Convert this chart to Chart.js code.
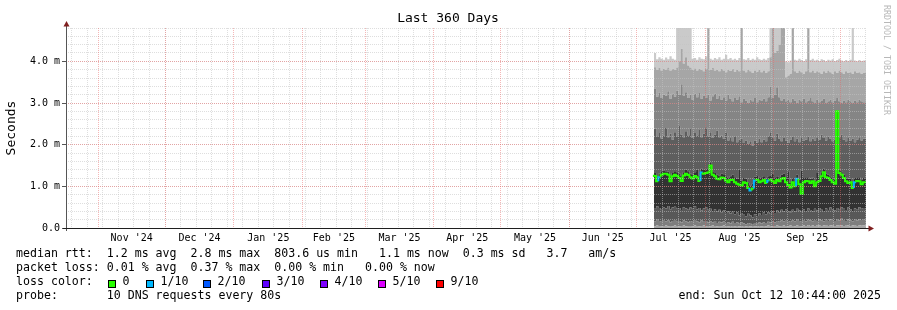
<!DOCTYPE html>
<html><head><meta charset="utf-8">
<script src="https://cdn.jsdelivr.net/npm/chart.js@4/dist/chart.umd.min.js"></script>
<style>html,body{margin:0;padding:0;background:#fff}#wrap{width:897px;height:310px;position:relative}</style>
</head><body><div id="wrap"><canvas id="c" width="897" height="310"></canvas></div>
<script>
// ---------- time frame ----------
const endTime = Date.UTC(2025, 9, 12, 10, 44);
const spanDays = 360;
const firstBin = '2025-07-09';          // first daily bin with data
const firstSunday = '2024-10-20';       // weekly grid anchor
const monthStarts = ['2024-11-01','2024-12-01','2025-01-01','2025-02-01','2025-03-01','2025-04-01','2025-05-01','2025-06-01','2025-07-01','2025-08-01','2025-09-01','2025-10-01'];
const monthLabels = ["Nov '24","Dec '24","Jan '25","Feb '25","Mar '25","Apr '25","May '25","Jun '25","Jul '25","Aug '25","Sep '25"];
const yMajorTicks = [0, 1, 2, 3, 4];
const yTickLabels = ['0.0', '1.0 m', '2.0 m', '3.0 m', '4.0 m'];

// ---------- series (ms), one value per daily bin ----------
const median = [1.28,1.25,1.12,1.22,1.28,1.30,1.30,1.28,1.12,1.24,
 1.28,1.25,1.20,1.13,1.26,1.30,1.27,1.22,1.19,1.25,
 1.22,1.13,1.33,1.30,1.32,1.33,1.50,1.28,1.24,1.18,
 1.17,1.21,1.20,1.14,1.10,1.15,1.16,1.10,1.06,1.04,
 1.02,1.10,1.08,0.96,0.90,0.95,1.14,1.16,1.10,1.12,
 1.15,1.08,1.14,1.16,1.12,1.08,1.15,1.12,1.18,1.20,
 1.10,1.03,0.97,1.10,1.00,1.18,1.05,0.82,1.10,1.13,
 1.12,1.08,1.12,1.00,1.10,1.13,1.24,1.34,1.22,1.20,
 1.15,1.10,1.06,2.80,1.32,1.28,1.20,1.12,1.08,1.10,
 0.96,1.10,1.13,1.12,1.05,1.10];
const lossCount = [0,0,1,0,0,0,0,0,0,0, 0,0,0,0,0,0,0,0,0,0,
 0,1,0,0,0,0,0,0,0,0, 0,0,0,0,0,0,0,0,0,0,
 0,0,0,1,0,1,0,0,0,0, 0,1,0,0,0,0,0,0,0,0,
 0,0,0,0,1,0,0,0,0,0, 0,0,0,0,0,0,0,0,0,0,
 0,0,0,0,0,0,0,0,0,0, 1,0,0,0,0,0];
const smokeLo0 = [0.05,0.04,0.06,0.05,0.04,0.05,0.06,0.04,0.05,0.04,
 0.06,0.05,0.04,0.05,0.06,0.04,0.05,0.05,0.04,0.06,
 0.05,0.04,0.05,0.06,0.04,0.05,0.04,0.06,0.05,0.04,
 0.05,0.04,0.06,0.05,0.04,0.03,0.05,0.04,0.03,0.04,
 0.05,0.03,0.04,0.03,0.04,0.03,0.04,0.05,0.03,0.04,
 0.05,0.04,0.06,0.05,0.04,0.05,0.06,0.04,0.05,0.06,
 0.05,0.04,0.06,0.05,0.04,0.06,0.05,0.04,0.06,0.05,
 0.07,0.05,0.06,0.05,0.07,0.06,0.05,0.06,0.07,0.05,
 0.06,0.07,0.05,0.06,0.07,0.06,0.05,0.07,0.06,0.05,
 0.06,0.07,0.05,0.06,0.07,0.06];
const smokeLo1 = [0.18,0.16,0.20,0.17,0.15,0.19,0.16,0.18,0.14,0.17,
 0.19,0.15,0.17,0.13,0.18,0.16,0.14,0.17,0.15,0.19,
 0.16,0.14,0.18,0.15,0.17,0.13,0.16,0.14,0.17,0.12,
 0.15,0.13,0.16,0.12,0.14,0.11,0.15,0.12,0.14,0.10,
 0.13,0.11,0.09,0.12,0.10,0.08,0.12,0.10,0.13,0.11,
 0.14,0.12,0.15,0.13,0.16,0.14,0.17,0.15,0.18,0.16,
 0.19,0.17,0.15,0.18,0.16,0.20,0.17,0.15,0.19,0.16,
 0.20,0.18,0.16,0.19,0.17,0.21,0.18,0.16,0.20,0.17,
 0.21,0.19,0.17,0.20,0.18,0.22,0.19,0.17,0.21,0.18,
 0.16,0.20,0.18,0.21,0.19,0.20];
const smokeLo2 = [0.50,0.46,0.52,0.48,0.44,0.50,0.47,0.53,0.45,0.49,
 0.51,0.46,0.48,0.43,0.50,0.47,0.44,0.49,0.46,0.52,
 0.45,0.48,0.42,0.47,0.50,0.44,0.46,0.41,0.45,0.40,
 0.44,0.38,0.42,0.36,0.40,0.35,0.39,0.33,0.37,0.30,
 0.36,0.32,0.28,0.34,0.30,0.26,0.33,0.29,0.35,0.31,
 0.37,0.33,0.38,0.34,0.40,0.36,0.42,0.38,0.44,0.40,
 0.45,0.41,0.38,0.44,0.40,0.46,0.42,0.39,0.45,0.41,
 0.47,0.43,0.40,0.46,0.42,0.48,0.44,0.41,0.47,0.43,
 0.49,0.45,0.42,0.48,0.44,0.50,0.46,0.43,0.49,0.45,
 0.41,0.47,0.44,0.50,0.46,0.48];
const smokeHi1 = [1.36,1.32,1.22,1.30,1.36,1.38,1.36,1.35,1.25,1.32,
 1.36,1.34,1.30,1.24,1.34,1.40,1.36,1.30,1.28,1.34,
 1.40,1.26,1.42,1.39,1.41,1.42,1.58,1.36,1.32,1.28,
 1.26,1.30,1.29,1.24,1.20,1.24,1.28,1.22,1.18,1.40,
 1.14,1.20,1.18,1.08,1.02,1.06,1.23,1.25,1.20,1.22,
 1.24,1.18,1.24,1.25,1.30,1.20,1.24,1.22,1.28,1.30,
 1.22,1.36,1.08,1.20,1.12,1.28,1.16,1.38,1.20,1.22,
 1.22,1.18,1.21,1.14,1.32,1.22,1.34,1.42,1.30,1.28,
 1.24,1.20,1.16,2.80,1.40,1.36,1.28,1.22,1.18,1.20,
 1.08,1.20,1.22,1.22,1.15,1.20];
const smokeHi2 = [2.25,2.38,2.20,2.28,2.15,2.22,2.40,2.18,2.26,2.12,
 2.30,2.20,2.45,2.24,2.18,2.32,2.22,2.40,2.16,2.28,
 2.22,2.35,2.18,2.26,2.42,2.20,2.30,2.16,2.24,2.34,
 2.18,2.22,2.14,2.28,2.10,2.16,2.08,2.20,2.06,2.12,
 2.15,2.04,2.10,2.02,2.08,1.98,2.10,2.05,2.14,2.06,
 2.12,2.08,2.20,2.30,2.18,2.10,2.26,2.14,2.08,2.16,
 2.10,2.04,2.12,2.20,2.08,2.14,2.06,2.18,2.10,2.12,
 2.20,2.08,2.14,2.10,2.18,2.12,2.24,2.16,2.10,2.20,
 2.14,2.08,2.12,2.82,2.18,2.24,2.12,2.08,2.16,2.10,
 2.14,2.06,2.12,2.18,2.10,2.14];
const smokeHi3 = [3.22,3.35,3.15,3.25,3.12,3.20,3.18,3.28,3.10,3.22,
 3.15,3.30,3.20,3.45,3.18,3.26,3.12,3.20,3.08,3.22,
 3.14,3.24,3.10,3.18,3.12,3.20,3.06,3.16,3.22,3.10,
 3.18,3.08,3.14,3.06,3.20,3.10,3.04,3.12,3.08,3.16,
 3.02,3.10,3.06,3.00,3.08,3.04,3.12,3.02,3.08,3.06,
 3.10,3.04,3.14,3.40,3.12,3.20,3.38,3.14,3.06,3.10,
 3.04,3.08,3.02,3.10,3.06,3.00,3.08,3.04,3.10,3.02,
 3.06,3.12,3.04,3.00,3.08,3.02,3.06,3.10,3.00,3.04,
 3.08,3.02,3.06,3.12,3.04,3.00,3.06,3.02,3.08,3.04,
 3.00,3.06,3.02,3.08,3.04,3.02];
const smokeHi4 = [3.82,3.86,3.80,3.84,3.78,3.82,3.80,3.85,3.78,3.82,
 3.80,3.85,4.00,4.30,3.95,4.10,3.90,3.85,3.80,3.83,
 3.78,3.82,3.80,3.76,3.82,4.80,3.79,3.84,3.78,3.80,
 3.76,3.82,3.78,3.74,3.80,3.77,3.82,3.75,3.79,3.76,
 4.80,3.78,3.74,3.80,3.76,3.72,3.78,3.75,3.80,3.74,
 3.78,3.72,3.76,4.10,4.80,4.20,4.25,4.40,4.80,4.80,
 3.62,3.66,3.70,4.80,3.76,3.72,3.78,3.74,3.70,3.76,
 4.80,3.74,3.78,3.72,3.76,3.74,3.70,3.76,3.72,3.78,
 3.74,3.70,3.76,3.72,3.78,3.74,3.70,3.76,3.72,3.74,
 3.70,3.76,3.72,3.74,3.70,3.72];
const smokeHi5 = [4.08,4.20,4.05,4.10,4.06,4.04,4.09,4.05,4.12,4.06,
 4.04,4.80,4.80,4.80,4.80,4.80,4.80,4.80,4.06,4.08,
 4.04,4.10,4.06,4.05,4.12,4.80,4.06,4.04,4.08,4.05,
 4.10,4.04,4.06,4.16,4.05,4.08,4.04,4.06,4.03,4.08,
 4.80,4.05,4.04,4.08,4.03,4.06,4.04,4.10,4.05,4.03,
 4.06,4.04,4.08,4.80,4.80,4.80,4.80,4.80,4.80,4.80,
 4.00,3.98,4.02,4.80,4.04,4.02,4.06,4.03,4.01,4.05,
 4.80,4.03,4.06,4.02,4.04,4.01,4.05,4.03,4.00,4.04,
 4.02,4.05,4.01,4.03,4.06,4.02,4.00,4.03,4.01,4.04,
 4.80,4.02,4.00,4.03,4.01,4.02];

// ---------- legend / text ----------
const titleText = 'Last 360 Days';
const yTitle = 'Seconds';
const statLines = [
  'median rtt:  1.2 ms avg  2.8 ms max  803.6 us min   1.1 ms now  0.3 ms sd   3.7   am/s',
  'packet loss: 0.01 % avg  0.37 % max  0.00 % min   0.00 % now'
];
const lossLegendLabels = ['0', '1/10', '2/10', '3/10', '4/10', '5/10', '9/10'];
const lossLegendCounts = [0, 1, 2, 3, 4, 5, 9];
const lossLegendColors = ['#26ff00', '#00b8ff', '#0059ff', '#5e00ff', '#7e00ff', '#dd00ff', '#ff0000'];
const probeText = 'probe:       10 DNS requests every 80s';
const endText = 'end: Sun Oct 12 10:44:00 2025';
const sideText = 'RRDTOOL / TOBI OETIKER';

// ---------- helpers ----------
const DAY = 86400000;
const startTime = endTime - spanDays * DAY;
const dayOf = s => (Date.parse(s + 'T00:00:00Z') - startTime) / DAY;
const series = {median, lossCount, smokeLo0, smokeLo1, smokeLo2, smokeHi1, smokeHi2, smokeHi3, smokeHi4, smokeHi5};
for (const k in series) if (series[k].length !== median.length) throw new Error(k + ' length ' + series[k].length);
const bin0 = dayOf(firstBin);
const binX = median.map((_, i) => bin0 + i);
const toPts = arr => { const p = arr.map((v, i) => ({x: binX[i], y: v})); p.push({x: spanDays, y: arr[arr.length - 1]}); return p; };
const monthDays = monthStarts.map(dayOf);
const labelDays = monthLabels.map((_, i) => (monthDays[i] + monthDays[i + 1]) / 2);
const weekDays = []; for (let d = dayOf(firstSunday); d < spanDays; d += 7) weekDays.push(d);
const minorY = []; for (let k = 0; k <= 24; k++) minorY.push(k / 5);
const lossColor = n => { const i = lossLegendCounts.indexOf(n); return i >= 0 ? lossLegendColors[i] : '#ff0000'; };

const MONO = 'DejaVu Sans Mono';
const minorGrid = 'rgba(195,195,195,0.55)';
const majorGrid = 'rgba(232,95,95,0.45)';

const band = (arr, color, fill) => ({data: toPts(arr), stepped: 'after', borderWidth: 0, pointRadius: 0, backgroundColor: color, fill: fill, order: 2});

const decor = {
  id: 'decor',
  afterDraw(chart) {
    const {ctx, chartArea: a} = chart;
    ctx.save();
    // axes
    ctx.lineWidth = 1;
    ctx.strokeStyle = '#555';
    ctx.beginPath(); ctx.moveTo(a.left + 0.5, a.bottom + 3); ctx.lineTo(a.left + 0.5, a.top - 2); ctx.stroke();
    ctx.strokeStyle = '#1f1f1f';
    ctx.beginPath(); ctx.moveTo(a.left - 3, a.bottom + 0.5); ctx.lineTo(a.right + 3, a.bottom + 0.5); ctx.stroke();
    ctx.fillStyle = '#801f1f';
    ctx.beginPath(); ctx.moveTo(a.left + 0.5, a.top - 7); ctx.lineTo(a.left - 2.5, a.top - 1.5); ctx.lineTo(a.left + 3.5, a.top - 1.5); ctx.closePath(); ctx.fill();
    ctx.beginPath(); ctx.moveTo(a.right + 8, a.bottom + 0.5); ctx.lineTo(a.right + 2.5, a.bottom - 2.5); ctx.lineTo(a.right + 2.5, a.bottom + 3.5); ctx.closePath(); ctx.fill();
    // title
    ctx.fillStyle = '#000';
    ctx.textBaseline = 'middle';
    ctx.textAlign = 'center';
    ctx.font = '13px "' + MONO + '"';
    ctx.fillText(titleText, 448, 19);
    // stats
    ctx.textAlign = 'left';
    ctx.font = '11.6px "' + MONO + '"';
    statLines.forEach((s, i) => ctx.fillText(s, 16, 254 + i * 14));
    ctx.fillText('loss color:', 16, 282);
    const boxX = [108, 146, 203, 262, 320, 378, 436];
    lossLegendLabels.forEach((lab, i) => {
      ctx.fillStyle = lossLegendColors[i];
      ctx.fillRect(boxX[i], 280.5, 7, 7);
      ctx.strokeStyle = '#000';
      ctx.strokeRect(boxX[i] + 0.5, 280.5, 7, 7);
      ctx.fillStyle = '#000';
      ctx.fillText(lab, boxX[i] + 14.5, 282);
    });
    ctx.fillText(probeText, 16, 296);
    ctx.textAlign = 'right';
    ctx.fillText(endText, 881, 296);
    // side text
    ctx.save();
    ctx.translate(886, 5);
    ctx.rotate(Math.PI / 2);
    ctx.textAlign = 'left';
    ctx.fillStyle = '#b8b8b8';
    ctx.font = '8.3px "' + MONO + '"';
    ctx.fillText(sideText, 0, 0);
    ctx.restore();
    ctx.restore();
  }
};

new Chart(document.getElementById('c'), {
  type: 'line',
  data: {
    datasets: [
      band(smokeLo0, '#a4a4a4', 'origin'),
      band(smokeLo1, '#7e7e7e', '-1'),
      band(smokeLo2, '#585858', '-1'),
      band(smokeHi1, '#323232', '-1'),
      band(smokeHi2, '#5e5e5e', '-1'),
      band(smokeHi3, '#858585', '-1'),
      band(smokeHi4, '#a6a6a6', '-1'),
      band(smokeHi5, '#cacaca', '-1'),
      {data: toPts(median), stepped: 'after', borderWidth: 2, pointRadius: 0, fill: false, order: 0,
       borderColor: '#26ff00',
       segment: {borderColor: c => lossColor(lossCount[Math.min(c.p0DataIndex, lossCount.length - 1)])}}
    ]
  },
  options: {
    responsive: false, animation: false, devicePixelRatio: 1,
    layout: {padding: {left: 0, right: 31, top: 28, bottom: 62}},
    plugins: {legend: {display: false}, tooltip: {enabled: false}},
    scales: {
      x: {type: 'linear', position: 'bottom', min: 0, max: spanDays,
        afterBuildTicks: s => { s.ticks = labelDays.map(v => ({value: v})); },
        afterFit: s => { s.height = 20; },
        ticks: {autoSkip: false, maxRotation: 0, minRotation: 0, padding: 4, color: '#000',
          font: {family: MONO, size: 10}, callback: (v, i) => monthLabels[i]},
        grid: {display: false, drawTicks: false}, border: {display: false}},
      xMonth: {type: 'linear', position: 'bottom', min: 0, max: spanDays,
        afterBuildTicks: s => { s.ticks = monthDays.map(v => ({value: v})); },
        afterFit: s => { s.height = 0; },
        ticks: {display: false},
        grid: {color: majorGrid, drawTicks: false, z: 2}, border: {display: false, dash: [1, 1]}},
      xWeek: {type: 'linear', position: 'bottom', min: 0, max: spanDays,
        afterBuildTicks: s => { s.ticks = weekDays.map(v => ({value: v})); },
        afterFit: s => { s.height = 0; },
        ticks: {display: false},
        grid: {color: minorGrid, drawTicks: false, z: 1}, border: {display: false, dash: [1, 1]}},
      y: {type: 'linear', position: 'left', min: 0, max: 4.8,
        afterBuildTicks: s => { s.ticks = yMajorTicks.map(v => ({value: v})); },
        afterFit: s => { s.width = 66; },
        ticks: {padding: 2, color: '#000', font: {family: MONO, size: 10}, callback: (v, i) => yTickLabels[i]},
        title: {display: true, text: yTitle, color: '#000', font: {family: MONO, size: 13}, padding: {top: 4, bottom: 0}},
        grid: {color: majorGrid, drawTicks: true, tickLength: 4, tickColor: '#555', z: 2}, border: {display: false, dash: [1, 1]}},
      yMinor: {type: 'linear', position: 'left', min: 0, max: 4.8,
        afterBuildTicks: s => { s.ticks = minorY.map(v => ({value: v})); },
        afterFit: s => { s.width = 0; },
        ticks: {display: false},
        grid: {color: minorGrid, drawTicks: true, tickLength: 2, tickColor: '#888', z: 1}, border: {display: false, dash: [1, 1]}}
    }
  },
  plugins: [decor]
});
</script></body></html>
